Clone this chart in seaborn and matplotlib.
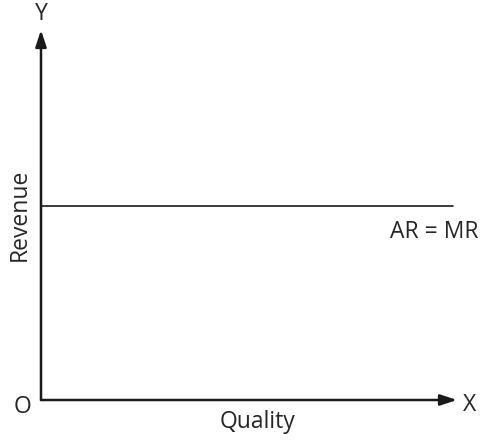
import numpy as np
import pandas as pd
import matplotlib
matplotlib.use("Agg")
import matplotlib.pyplot as plt
import seaborn as sns

# dados do diagrama (receita constante: AR = MR)
quantidade = [0.0, 9.9]
receita = [5.25, 5.25]
rotulo_linha = "AR = MR"
rotulo_x = "Quality"
rotulo_y = "Revenue"

df = pd.DataFrame({"q": quantidade, "r": receita})

sns.set_style("white")
plt.rcParams["font.family"] = ["Open Sans", "DejaVu Sans"]

fig = plt.figure(figsize=(4.9, 4.4), dpi=100)
# eixo posicionado em pixels: origem em (41, 400), setas ate (457, 30)
ax = fig.add_axes([41 / 490, 40 / 440, 416 / 490, 370 / 440])

sns.lineplot(data=df, x="q", y="r", ax=ax, color="#1a1a1a", linewidth=1.2)

ax.set_xlim(0, 10)
ax.set_ylim(0, 10)
for s in ax.spines.values():
    s.set_visible(False)
ax.set_xticks([])
ax.set_yticks([])
ax.set_xlabel("")
ax.set_ylabel("")

# eixos com setas
seta = dict(arrowstyle="-|>,head_length=1.0,head_width=0.33", color="#1a1a1a",
            lw=1.8, shrinkA=0, shrinkB=0)
ax.annotate("", xy=(1, 0), xytext=(0, 0), xycoords="axes fraction", arrowprops=seta)
ax.annotate("", xy=(0, 1), xytext=(0, 0), xycoords="axes fraction", arrowprops=seta)

fs = 16.5
ax.text(0, 1.042, "Y", transform=ax.transAxes, ha="center", va="center", fontsize=fs)
ax.text(1.031, -0.014, "X", transform=ax.transAxes, ha="center", va="center", fontsize=fs)
ax.text(-0.044, -0.02, "O", transform=ax.transAxes, ha="center", va="center", fontsize=fs)
ax.text(0.52, -0.06, rotulo_x, transform=ax.transAxes, ha="center", va="center", fontsize=fs)
ax.text(-0.051, 0.5, rotulo_y, transform=ax.transAxes, ha="center", va="center",
        rotation=90, fontsize=fs)
ax.text(0.945, 0.455, rotulo_linha, transform=ax.transAxes, ha="center", va="center", fontsize=fs)

fig.savefig("out.png", dpi=100, facecolor="white")
